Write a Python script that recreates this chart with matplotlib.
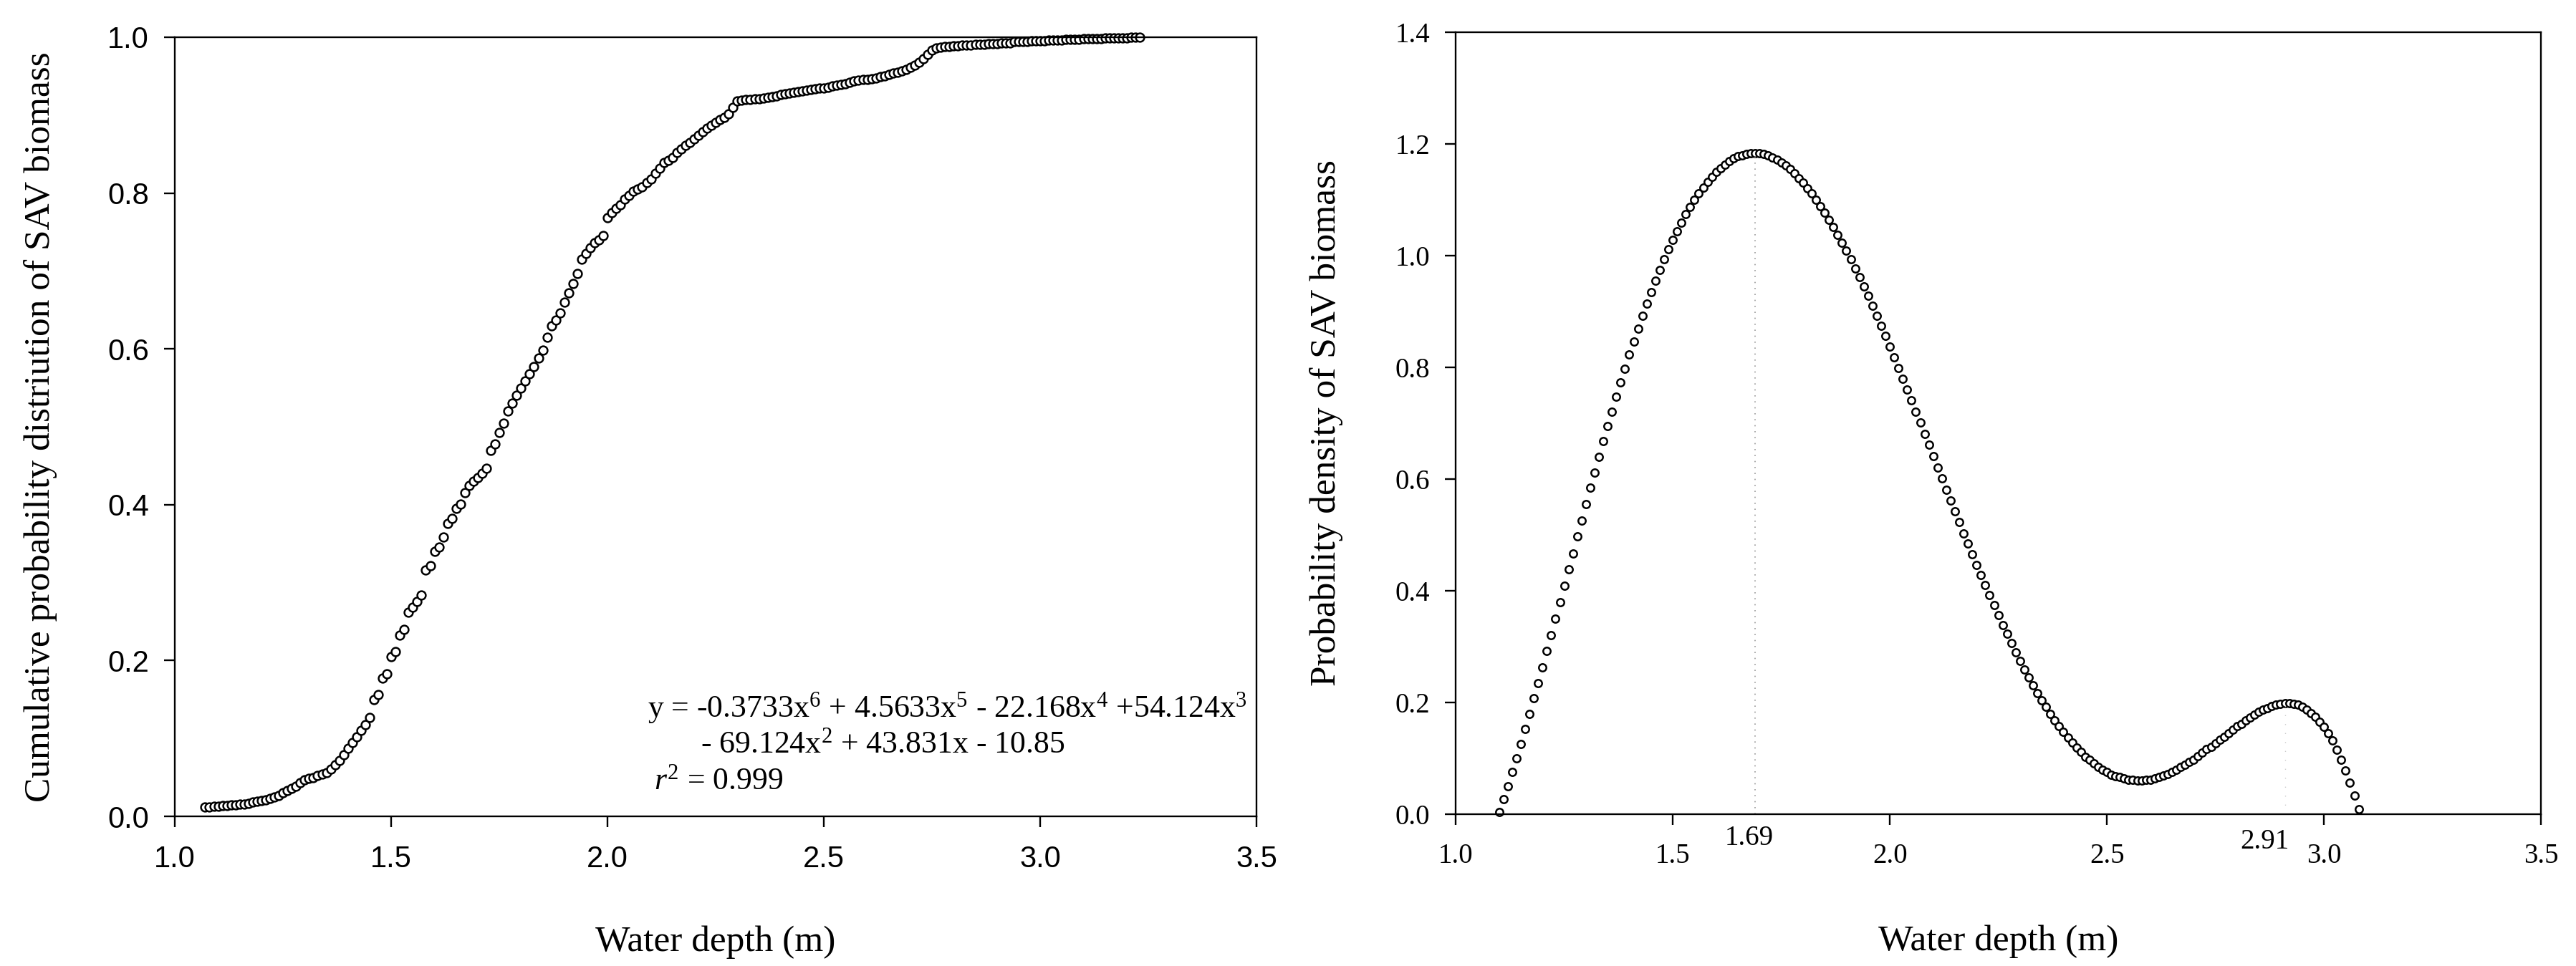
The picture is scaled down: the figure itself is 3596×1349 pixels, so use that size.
import matplotlib
matplotlib.use("Agg")
import matplotlib.pyplot as plt

plt.rcParams['font.family'] = 'Liberation Serif'
plt.rcParams['mathtext.fontset'] = 'custom'
plt.rcParams['mathtext.rm'] = 'Liberation Serif'
plt.rcParams['mathtext.it'] = 'Liberation Serif:italic'

# left panel: cumulative probability vs water depth
cum_depth = [1.07, 1.08, 1.09,
             1.10, 1.11, 1.12, 1.13, 1.14, 1.15, 1.16, 1.17, 1.18, 1.19,
             1.20, 1.21, 1.22, 1.23, 1.24, 1.25, 1.26, 1.27, 1.28, 1.29,
             1.30, 1.31, 1.32, 1.33, 1.34, 1.35, 1.36, 1.37, 1.38, 1.39,
             1.40, 1.41, 1.42, 1.43, 1.44, 1.45, 1.46, 1.47, 1.48, 1.49,
             1.50, 1.51, 1.52, 1.53, 1.54, 1.55, 1.56, 1.57, 1.58, 1.59,
             1.60, 1.61, 1.62, 1.63, 1.64, 1.65, 1.66, 1.67, 1.68, 1.69,
             1.70, 1.71, 1.72, 1.73, 1.74, 1.75, 1.76, 1.77, 1.78, 1.79,
             1.80, 1.81, 1.82, 1.83, 1.84, 1.85, 1.86, 1.87, 1.88, 1.89,
             1.90, 1.91, 1.92, 1.93, 1.94, 1.95, 1.96, 1.97, 1.98, 1.99,
             2.00, 2.01, 2.02, 2.03, 2.04, 2.05, 2.06, 2.07, 2.08, 2.09,
             2.10, 2.11, 2.12, 2.13, 2.14, 2.15, 2.16, 2.17, 2.18, 2.19,
             2.20, 2.21, 2.22, 2.23, 2.24, 2.25, 2.26, 2.27, 2.28, 2.29,
             2.30, 2.31, 2.32, 2.33, 2.34, 2.35, 2.36, 2.37, 2.38, 2.39,
             2.40, 2.41, 2.42, 2.43, 2.44, 2.45, 2.46, 2.47, 2.48, 2.49,
             2.50, 2.51, 2.52, 2.53, 2.54, 2.55, 2.56, 2.57, 2.58, 2.59,
             2.60, 2.61, 2.62, 2.63, 2.64, 2.65, 2.66, 2.67, 2.68, 2.69,
             2.70, 2.71, 2.72, 2.73, 2.74, 2.75, 2.76, 2.77, 2.78, 2.79,
             2.80, 2.81, 2.82, 2.83, 2.84, 2.85, 2.86, 2.87, 2.88, 2.89,
             2.90, 2.91, 2.92, 2.93, 2.94, 2.95, 2.96, 2.97, 2.98, 2.99,
             3.00, 3.01, 3.02, 3.03, 3.04, 3.05, 3.06, 3.07, 3.08, 3.09,
             3.10, 3.11, 3.12, 3.13, 3.14, 3.15, 3.16, 3.17, 3.18, 3.19,
             3.20, 3.21, 3.22, 3.23]
cum_prob = [0.012, 0.012, 0.013,
            0.013, 0.014, 0.014, 0.015, 0.015, 0.016, 0.016, 0.017, 0.018, 0.019,
            0.020, 0.021, 0.023, 0.025, 0.027, 0.030, 0.033, 0.036, 0.039, 0.043,
            0.047, 0.049, 0.050, 0.052, 0.054, 0.056, 0.061, 0.066, 0.072, 0.079,
            0.087, 0.095, 0.102, 0.110, 0.118, 0.127, 0.150, 0.156, 0.177, 0.183,
            0.205, 0.211, 0.233, 0.240, 0.262, 0.268, 0.276, 0.284, 0.316, 0.322,
            0.340, 0.346, 0.358, 0.376, 0.382, 0.395, 0.401, 0.415, 0.425, 0.430,
            0.435, 0.440, 0.447, 0.470, 0.478, 0.493, 0.505, 0.520, 0.530, 0.540,
            0.550, 0.559, 0.568, 0.577, 0.588, 0.598, 0.615, 0.630, 0.637, 0.646,
            0.660, 0.672, 0.684, 0.697, 0.715, 0.722, 0.730, 0.736, 0.740, 0.745,
            0.768, 0.775, 0.780, 0.785, 0.792, 0.797, 0.802, 0.805, 0.808, 0.813,
            0.818, 0.825, 0.832, 0.839, 0.842, 0.846, 0.852, 0.857, 0.861, 0.865,
            0.869, 0.874, 0.879, 0.883, 0.887, 0.891, 0.894, 0.897, 0.902, 0.910,
            0.918, 0.919, 0.920, 0.920, 0.921, 0.921, 0.922, 0.923, 0.924, 0.925,
            0.926, 0.927, 0.928, 0.929, 0.930, 0.931, 0.932, 0.933, 0.934, 0.935,
            0.935, 0.936, 0.937, 0.938, 0.939, 0.940, 0.942, 0.944, 0.945, 0.946,
            0.946, 0.947, 0.948, 0.949, 0.950, 0.952, 0.954, 0.955, 0.957, 0.959,
            0.961, 0.964, 0.968, 0.972, 0.978, 0.983, 0.986, 0.987, 0.988, 0.988,
            0.989, 0.989, 0.990, 0.990, 0.990, 0.991, 0.991, 0.991, 0.992, 0.992,
            0.992, 0.993, 0.993, 0.993, 0.994, 0.994, 0.994, 0.994, 0.995, 0.995,
            0.995, 0.995, 0.996, 0.996, 0.996, 0.996, 0.997, 0.997, 0.997, 0.997,
            0.998, 0.998, 0.998, 0.998, 0.998, 0.999, 0.999, 0.999, 0.999, 0.999,
            0.999, 1.000, 1.000, 1.000]

# right panel: probability density vs water depth
dens_depth = [1.10, 1.11, 1.12, 1.13, 1.14, 1.15, 1.16, 1.17, 1.18, 1.19,
              1.20, 1.21, 1.22, 1.23, 1.24, 1.25, 1.26, 1.27, 1.28, 1.29,
              1.30, 1.31, 1.32, 1.33, 1.34, 1.35, 1.36, 1.37, 1.38, 1.39,
              1.40, 1.41, 1.42, 1.43, 1.44, 1.45, 1.46, 1.47, 1.48, 1.49,
              1.50, 1.51, 1.52, 1.53, 1.54, 1.55, 1.56, 1.57, 1.58, 1.59,
              1.60, 1.61, 1.62, 1.63, 1.64, 1.65, 1.66, 1.67, 1.68, 1.69,
              1.70, 1.71, 1.72, 1.73, 1.74, 1.75, 1.76, 1.77, 1.78, 1.79,
              1.80, 1.81, 1.82, 1.83, 1.84, 1.85, 1.86, 1.87, 1.88, 1.89,
              1.90, 1.91, 1.92, 1.93, 1.94, 1.95, 1.96, 1.97, 1.98, 1.99,
              2.00, 2.01, 2.02, 2.03, 2.04, 2.05, 2.06, 2.07, 2.08, 2.09,
              2.10, 2.11, 2.12, 2.13, 2.14, 2.15, 2.16, 2.17, 2.18, 2.19,
              2.20, 2.21, 2.22, 2.23, 2.24, 2.25, 2.26, 2.27, 2.28, 2.29,
              2.30, 2.31, 2.32, 2.33, 2.34, 2.35, 2.36, 2.37, 2.38, 2.39,
              2.40, 2.41, 2.42, 2.43, 2.44, 2.45, 2.46, 2.47, 2.48, 2.49,
              2.50, 2.51, 2.52, 2.53, 2.54, 2.55, 2.56, 2.57, 2.58, 2.59,
              2.60, 2.61, 2.62, 2.63, 2.64, 2.65, 2.66, 2.67, 2.68, 2.69,
              2.70, 2.71, 2.72, 2.73, 2.74, 2.75, 2.76, 2.77, 2.78, 2.79,
              2.80, 2.81, 2.82, 2.83, 2.84, 2.85, 2.86, 2.87, 2.88, 2.89,
              2.90, 2.91, 2.92, 2.93, 2.94, 2.95, 2.96, 2.97, 2.98, 2.99,
              3.00, 3.01, 3.02, 3.03, 3.04, 3.05, 3.06, 3.07, 3.08]
dens = [0.004, 0.027, 0.050, 0.075, 0.100, 0.125, 0.152, 0.179, 0.207, 0.235,
        0.263, 0.292, 0.321, 0.350, 0.380, 0.409, 0.438, 0.467, 0.497, 0.526,
        0.555, 0.584, 0.612, 0.640, 0.668, 0.695, 0.721, 0.747, 0.773, 0.798,
        0.823, 0.846, 0.869, 0.892, 0.914, 0.935, 0.955, 0.974, 0.993, 1.011,
        1.028, 1.044, 1.059, 1.074, 1.087, 1.100, 1.112, 1.122, 1.132, 1.141,
        1.150, 1.157, 1.163, 1.169, 1.174, 1.178, 1.180, 1.182, 1.183, 1.184,
        1.183, 1.182, 1.180, 1.176, 1.172, 1.167, 1.161, 1.155, 1.147, 1.139,
        1.131, 1.121, 1.111, 1.100, 1.089, 1.077, 1.064, 1.051, 1.037, 1.023,
        1.009, 0.993, 0.977, 0.961, 0.945, 0.928, 0.910, 0.892, 0.874, 0.856,
        0.837, 0.818, 0.799, 0.780, 0.760, 0.741, 0.721, 0.701, 0.681, 0.661,
        0.641, 0.621, 0.601, 0.581, 0.562, 0.542, 0.523, 0.503, 0.484, 0.465,
        0.446, 0.428, 0.410, 0.392, 0.374, 0.356, 0.339, 0.323, 0.306, 0.290,
        0.274, 0.259, 0.245, 0.231, 0.217, 0.204, 0.192, 0.180, 0.168, 0.157,
        0.147, 0.137, 0.128, 0.119, 0.111, 0.103, 0.097, 0.091, 0.085, 0.080,
        0.075, 0.071, 0.068, 0.066, 0.064, 0.062, 0.061, 0.060, 0.060, 0.061,
        0.062, 0.064, 0.066, 0.069, 0.072, 0.075, 0.079, 0.084, 0.088, 0.093,
        0.098, 0.104, 0.110, 0.116, 0.121, 0.127, 0.133, 0.139, 0.145, 0.151,
        0.157, 0.162, 0.168, 0.173, 0.178, 0.183, 0.187, 0.190, 0.193, 0.196,
        0.198, 0.199, 0.199, 0.198, 0.196, 0.192, 0.187, 0.181, 0.174, 0.165,
        0.156, 0.145, 0.132, 0.115, 0.097, 0.078, 0.056, 0.033, 0.009]

peaks = [1.69, 2.91]
peak_heights = [1.184, 0.199]
peak_labels = ['1.69', '2.91']

x_ticks = [1.0, 1.5, 2.0, 2.5, 3.0, 3.5]
left_yticks = [0.0, 0.2, 0.4, 0.6, 0.8, 1.0]
right_yticks = [0.0, 0.2, 0.4, 0.6, 0.8, 1.0, 1.2, 1.4]

fig = plt.figure(figsize=(35.96, 13.49), dpi=100)
ax1 = fig.add_axes([0.0679, 0.1549, 0.4199, 0.8066])
ax2 = fig.add_axes([0.5651, 0.1572, 0.4213, 0.8094])


def style(ax, yticks, tickfont, fs):
    for s in ax.spines.values():
        s.set_linewidth(1.7)
    ax.set_xlim(1.0, 3.5)
    ax.set_ylim(yticks[0], yticks[-1])
    ax.set_xticks(x_ticks)
    ax.set_yticks(yticks)
    ax.set_xticklabels(['%.1f' % t for t in x_ticks], family=tickfont, fontsize=fs)
    ax.set_yticklabels(['%.1f' % t for t in yticks], family=tickfont, fontsize=fs)
    ax.tick_params(direction='out', length=11, width=1.7, top=False, right=False)
    ax.tick_params(axis='x', pad=18)
    ax.tick_params(axis='y', pad=15)


# left
ax1.plot(cum_depth, cum_prob, 'o', ms=8.5, mfc='white', mec='black', mew=1.8, clip_on=False)
style(ax1, left_yticks, 'Liberation Sans', 30)
ax1.set_xlabel('Water depth (m)', fontsize=37)
ax1.set_ylabel('Cumulative probability distriution of SAV biomass', fontsize=37)
ax1.xaxis.set_label_coords(0.5, -0.14)
ax1.yaxis.set_label_coords(-0.109, 0.5)
ax1.text(0.437, 0.139, r'y = -0.3733x$^6$ + 4.5633x$^5$ - 22.168x$^4$ +54.124x$^3$',
         transform=ax1.transAxes, fontsize=31.5, va='center', ha='left')
ax1.text(0.486, 0.092, r'- 69.124x$^2$ + 43.831x - 10.85',
         transform=ax1.transAxes, fontsize=31.5, va='center', ha='left')
ax1.text(0.443, 0.045, r'$\mathit{r}^2$ = 0.999',
         transform=ax1.transAxes, fontsize=31.5, va='center', ha='left')

# right
ax2.plot(dens_depth, dens, 'o', ms=7.5, mfc='white', mec='black', mew=1.8, clip_on=False)
ax2.vlines(peaks[0], 0, peak_heights[0], colors='#999999', linestyles=(0, (1, 4)), lw=1.2)
ax2.vlines(peaks[1], 0, peak_heights[1], colors='#cccccc', linestyles=(0, (1, 8)), lw=1.0)
style(ax2, right_yticks, 'Liberation Serif', 28)
ax2.set_xlabel('Water depth (m)', fontsize=37)
ax2.set_ylabel('Probability density of SAV biomass', fontsize=37)
ax2.xaxis.set_label_coords(0.5, -0.142)
ax2.yaxis.set_label_coords(-0.104, 0.5)
ax2.annotate(peak_labels[0], xy=(peaks[0], 0), xycoords=('data', 'axes fraction'),
             xytext=(-6, -24), textcoords='offset points', ha='center', va='center', fontsize=28)
ax2.annotate(peak_labels[1], xy=(peaks[1], 0), xycoords=('data', 'axes fraction'),
             xytext=(4, -28), textcoords='offset points', ha='right', va='center', fontsize=28)

fig.savefig('out.png', dpi=100, facecolor='white')
